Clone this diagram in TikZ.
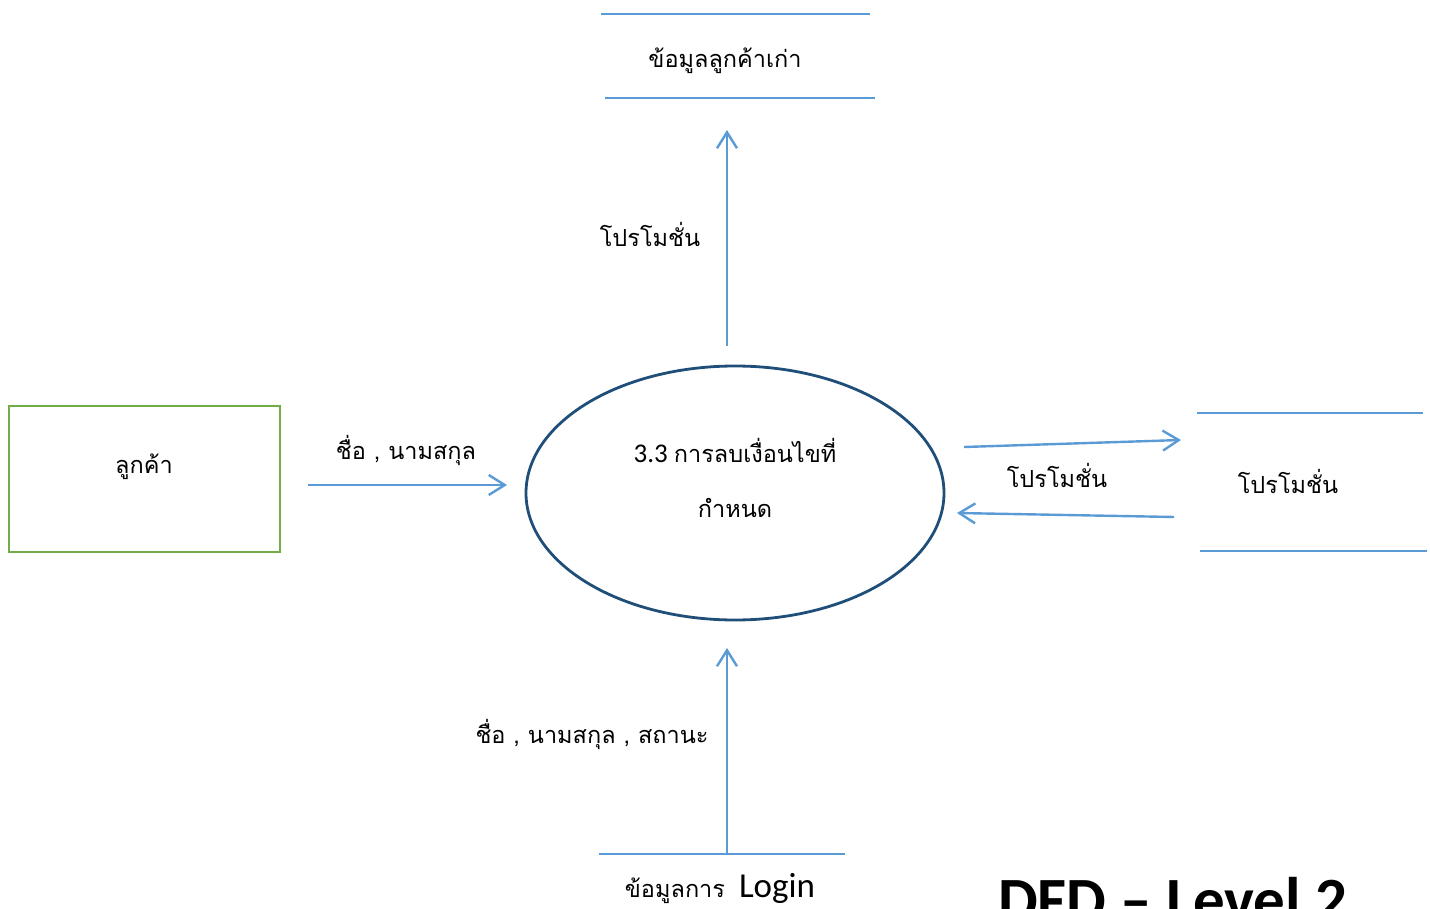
\documentclass[tikz,border=0pt]{standalone}
\usepackage{fontspec}
\setmainfont{Carlito}
\newfontfamily\thaifont[Script=Thai]{Loma}
\usetikzlibrary{arrows.meta,shapes.geometric}
\definecolor{flow}{HTML}{5B9BD5}
\definecolor{procc}{HTML}{1F4E79}
\definecolor{entc}{HTML}{70AD47}
\tikzset{
  flowarrow/.style={draw=flow, line width=2.4pt, -{Straight Barb[length=16pt,width=20pt,line width=2.4pt]}},
  storeline/.style={draw=flow, line width=1.5pt},
  lbl/.style={font=\thaifont\fontsize{23.5}{28}\selectfont, inner sep=0pt},
}
\begin{document}
\begin{tikzpicture}[x=1pt,y=-1pt]
\useasboundingbox (0,0) rectangle (1430,909);
% top store
\coordinate (t1a) at (601,14); \coordinate (t1b) at (870,14);
\coordinate (t2a) at (605,98); \coordinate (t2b) at (875,98);
\draw[storeline] (t1a) -- (t1b);
\draw[storeline] (t2a) -- (t2b);
\node[lbl] (oldcust) at (725,61) {ข้อมูลลูกค้าเก่า};
% process
\node[draw=procc, line width=2.8pt, ellipse, minimum width=418pt, minimum height=254pt, inner sep=0pt] (proc) at (735,493) {};
\node[inner sep=0pt] (ptext1) at (735,451) {\fontsize{27}{30}\selectfont 3.3 {\thaifont\fontsize{23.5}{28}\selectfont การลบเงื่อนไขที่}};
\node[lbl] (ptext2) at (735,508) {กำหนด};
% entity
\node[draw=entc, line width=2.8pt, minimum width=271pt, minimum height=146pt, inner sep=0pt] (cust) at (144.5,479) {};
\node[lbl] (custtext) at (144,467) {ลูกค้า};
% right store
\coordinate (r1a) at (1197,413); \coordinate (r1b) at (1423,413);
\coordinate (r2a) at (1200,551); \coordinate (r2b) at (1427,551);
\draw[storeline] (r1a) -- (r1b);
\draw[storeline] (r2a) -- (r2b);
\node[lbl] (promo) at (1288,481) {โปรโมชั่น};
% bottom store
\coordinate (b1a) at (599,854); \coordinate (b1b) at (845,854);
\draw[storeline] (b1a) -- (b1b);
\node[inner sep=0pt] (login) at (720,889) {{\thaifont\fontsize{23.5}{28}\selectfont ข้อมูลการ}\hspace{14pt}{\fontsize{35}{40}\selectfont Login}};
% DFD title
\node[font=\bfseries\fontsize{63}{70}\selectfont, anchor=base west, inner sep=0pt] (title) at (998,921) {DFD – Level 2};
% flows
\coordinate (upS) at (727,346); \coordinate (upE) at (727,130);
\draw[flowarrow] (upS) -- (upE);
\node[lbl] (l1) at (650,234) {โปรโมชั่น};
\coordinate (inS) at (308,485); \coordinate (inE) at (507,485);
\draw[flowarrow] (inS) -- (inE);
\node[lbl] (l2) at (406,450) {ชื่อ , นามสกุล};
\coordinate (p1S) at (964,447); \coordinate (p1E) at (1181,440);
\draw[flowarrow] (p1S) -- (p1E);
\coordinate (p2S) at (1174,517); \coordinate (p2E) at (957,513);
\draw[flowarrow] (p2S) -- (p2E);
\node[lbl] (l3) at (1057,475) {โปรโมชั่น};
\coordinate (loS) at (727,853); \coordinate (loE) at (727,648);
\draw[flowarrow] (loS) -- (loE);
\node[lbl] (l4) at (592,734) {ชื่อ , นามสกุล , สถานะ};
\end{tikzpicture}
\end{document}
